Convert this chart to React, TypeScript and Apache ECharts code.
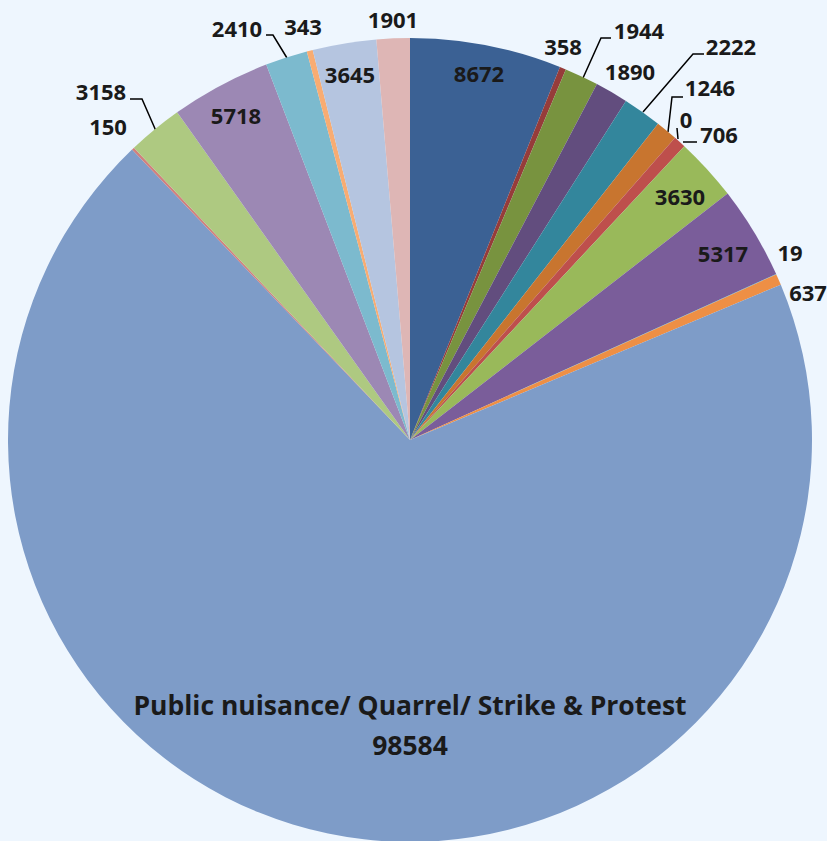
import React, { useEffect, useRef } from "react";
import * as echarts from "echarts";

const categories = [
  "Category 1", "Category 2", "Category 3", "Category 4", "Category 5",
  "Category 6", "Category 7", "Category 8", "Category 9", "Category 10",
  "Category 11", "Category 12", "Public nuisance/ Quarrel/ Strike & Protest",
  "Category 14", "Category 15", "Category 16", "Category 17", "Category 18",
  "Category 19", "Category 20",
];
const values = [8672, 358, 1944, 1890, 2222, 1246, 0, 706, 3630, 5317, 19, 637, 98584, 150, 3158, 5718, 2410, 343, 3645, 1901];

const colors = [
  "#3B6194", "#963C3A", "#78933F", "#624D7E", "#33869C", "#C8752F", "#B8B8B8",
  "#BE4F4C", "#99B95A", "#7A5D9A", "#49A9C2", "#EE8F45", "#7E9CC8", "#D1807D",
  "#AEC981", "#9C88B4", "#7CBACE", "#F8AC72", "#B5C5E0", "#DEB6B5",
];

// label centre positions (px) per slice, and optional leader line points
const labelPos: [number, number][] = [
  [479, 73], [563, 46], [639, 30], [630, 71], [731, 46], [710, 87], [686, 119],
  [719, 134], [680, 196], [723, 253], [790, 252], [808, 292], [410, 725],
  [108, 126], [101, 91], [236, 115], [237, 28], [303, 26], [350, 74], [393, 19],
];
const leaderLines: (number[][] | null)[] = [
  null, null, [[583, 78], [601, 38], [611, 38]], null,
  [[643, 112], [693, 54], [704, 54]],
  [[668, 132], [672, 97], [683, 97]],
  [[678, 139], [677, 128], [677, 128]],
  [[683, 142], [697, 142], [697, 142]],
  null, null, null, null, null, null,
  [[156, 131], [142, 99], [130, 99]],
  null,
  [[287, 58], [273, 35], [266, 35]],
  null, null, null,
];

export default function App() {
  const ref = useRef<HTMLDivElement>(null);
  useEffect(() => {
    if (!ref.current) return;
    const chart = echarts.init(ref.current, undefined, { renderer: "svg" });
    const bigIndex = 12;
    chart.setOption({
      animation: false,
      backgroundColor: "#EEF6FE",
      series: [
        {
          type: "pie",
          center: [410, 440],
          radius: 402,
          startAngle: 90,
          clockwise: true,
          avoidLabelOverlap: false,
          minShowLabelAngle: 0,
          data: values.map((v, i) => ({
            name: categories[i],
            value: v,
            itemStyle: { color: colors[i] },
            label:
              i === bigIndex
                ? { formatter: "{b}\n{c}", fontSize: 26.5, lineHeight: 40 }
                : { formatter: "{c}" },
            labelLine: { show: !!leaderLines[i] },
          })),
          label: {
            show: true,
            position: "outside",
            color: "#1A1A1A",
            fontFamily: "Open Sans",
            fontWeight: "bold",
            fontSize: 22,
          },
          labelLine: {
            lineStyle: { color: "#000", width: 1.5 },
          },
          labelLayout: (params: any) => {
            const i = params.dataIndex;
            const p = labelPos[i];
            const out: any = {
              x: p[0],
              y: p[1],
              align: "center",
              verticalAlign: "middle",
            };
            if (leaderLines[i]) out.labelLinePoints = leaderLines[i];
            return out;
          },
          emphasis: { disabled: true },
        },
      ],
    });
    return () => chart.dispose();
  }, []);
  return (
    <div
      ref={ref}
      style={{ position: "fixed", left: 0, top: 0, width: 827, height: 841 }}
    />
  );
}
